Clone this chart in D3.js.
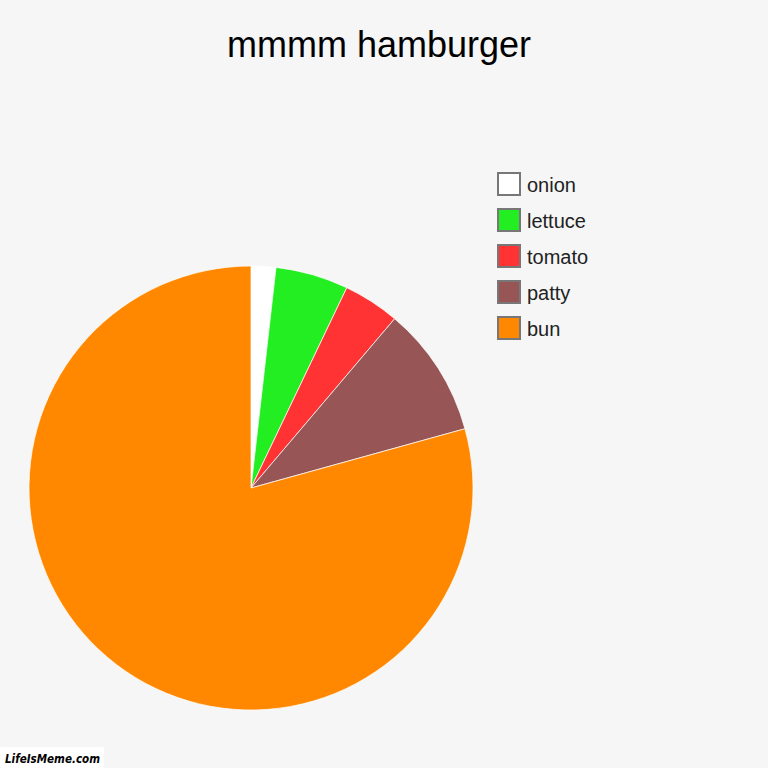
<!DOCTYPE html>
<html>
<head>
<meta charset="utf-8">
<script src="https://cdn.jsdelivr.net/npm/d3@7"></script>
<style>
  body { margin: 0; background: #f6f6f6; }
  svg { display: block; }
</style>
</head>
<body>
<div id="chart"></div>
<script>
// slice data, clockwise from 12 o'clock
const ingredients = ["onion", "lettuce", "tomato", "patty", "bun"];
const amounts = [1.8, 5.3, 4.1, 9.5, 79.3];
const sliceColors = ["#ffffff", "#22ee22", "#ff3333", "#985555", "#ff8800"];

const width = 768, height = 768;
const cx = 251, cy = 488, radius = 222;

const svg = d3.select("#chart")
    .append("svg")
    .attr("width", width)
    .attr("height", height)
    .style("background", "#f6f6f6");

svg.append("text")
    .attr("x", 379)
    .attr("y", 57)
    .attr("text-anchor", "middle")
    .attr("font-family", "Liberation Sans, Arial, sans-serif")
    .attr("font-size", "36px")
    .attr("fill", "#000")
    .text("mmmm hamburger");

const table = ingredients.map((name, i) => ({ name, value: amounts[i], color: sliceColors[i] }));

const pie = d3.pie()
    .value(d => d.value)
    .sort(null);

const arc = d3.arc()
    .innerRadius(0)
    .outerRadius(radius);

const g = svg.append("g")
    .attr("transform", `translate(${cx}, ${cy})`);

g.selectAll("path")
    .data(pie(table))
    .enter()
    .append("path")
    .attr("d", arc)
    .attr("fill", d => d.data.color)
    .attr("stroke", "#ffffff")
    .attr("stroke-width", 0.7);

// legend
const legend = svg.append("g")
    .attr("transform", "translate(498, 173)");

const rows = legend.selectAll("g")
    .data(table)
    .enter()
    .append("g")
    .attr("transform", (d, i) => `translate(0, ${i * 36})`);

rows.append("rect")
    .attr("width", 22)
    .attr("height", 22)
    .attr("fill", d => d.color)
    .attr("stroke", "#777")
    .attr("stroke-width", 2);

rows.append("text")
    .attr("x", 29)
    .attr("y", 19)
    .attr("font-family", "Liberation Sans, Arial, sans-serif")
    .attr("font-size", "20px")
    .attr("fill", "#222")
    .text(d => d.name);

// watermark
svg.append("rect")
    .attr("x", 0)
    .attr("y", 747)
    .attr("width", 104)
    .attr("height", 21)
    .attr("rx", 2)
    .attr("fill", "#fff");

svg.append("text")
    .attr("x", 5)
    .attr("y", 763)
    .attr("font-family", "DejaVu Sans, sans-serif")
    .attr("font-weight", "bold")
    .attr("font-style", "italic")
    .attr("font-size", "12px")
    .attr("textLength", 95)
    .attr("lengthAdjust", "spacingAndGlyphs")
    .attr("fill", "#000")
    .text("LifeIsMeme.com");
</script>
</body>
</html>
